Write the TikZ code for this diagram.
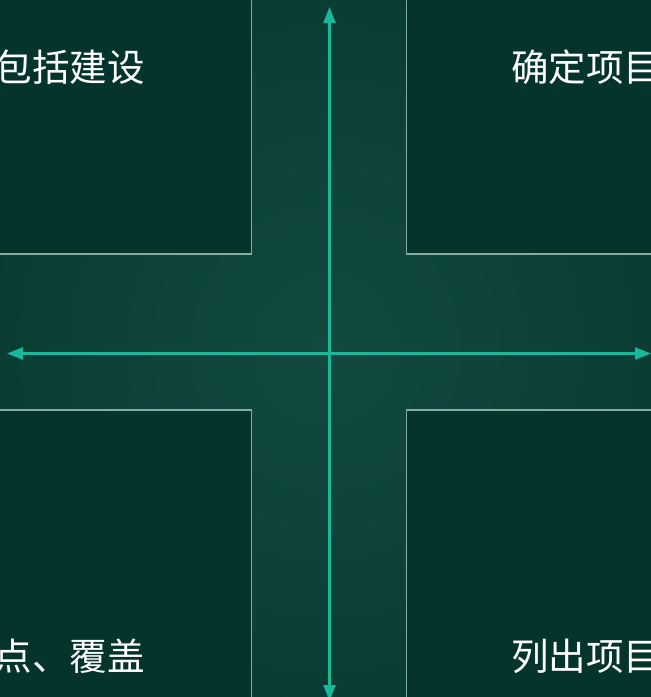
\documentclass[tikz,border=0pt]{standalone}
\usepackage{fontspec}
\newfontfamily\cjk{Noto Sans CJK SC}
\usetikzlibrary{arrows.meta,shadings}
\definecolor{bgin}{HTML}{124A40}
\definecolor{bgout}{HTML}{073A31}
\definecolor{boxfill}{HTML}{04342C}
\definecolor{boxline}{HTML}{86ACA2}
\definecolor{axis}{HTML}{19B89B}
\tikzset{
  panel/.style={fill=boxfill, draw=boxline, line width=1.2pt},
  axisline/.style={draw=axis, line width=2.2pt, {Triangle[length=16pt,width=12pt]}-{Triangle[length=16pt,width=12pt]}},
  label/.style={text=white, font=\cjk\fontsize{37.5}{40}\selectfont, inner sep=0pt}
}
\begin{document}
\begin{tikzpicture}[x=1pt,y=-1pt]
\useasboundingbox (0,0) rectangle (651,697);
\clip (0,0) rectangle (651,697);
\shade[inner color=bgin, outer color=bgout] (-100,-100) rectangle (751,797);
\draw[panel] (-10,-10) rectangle (251.5,254);
\draw[panel] (406.5,-10) rectangle (670,254);
\draw[panel] (-10,410) rectangle (251.5,710);
\draw[panel] (406.5,410) rectangle (670,710);
\node[label, anchor=east] (tl) at (145,67) {包括建设};
\node[label, anchor=west] (tr) at (511,67) {确定项目};
\node[label, anchor=east] (bl) at (145,656) {点、覆盖};
\node[label, anchor=west] (br) at (511,656) {列出项目};
\coordinate (top) at (329.5,7);
\coordinate (bot) at (329.5,701);
\coordinate (lft) at (7,353.5);
\coordinate (rgt) at (651,353.5);
\draw[axisline] (bot) -- (top);
\draw[axisline] (lft) -- (rgt);
\end{tikzpicture}
\end{document}
